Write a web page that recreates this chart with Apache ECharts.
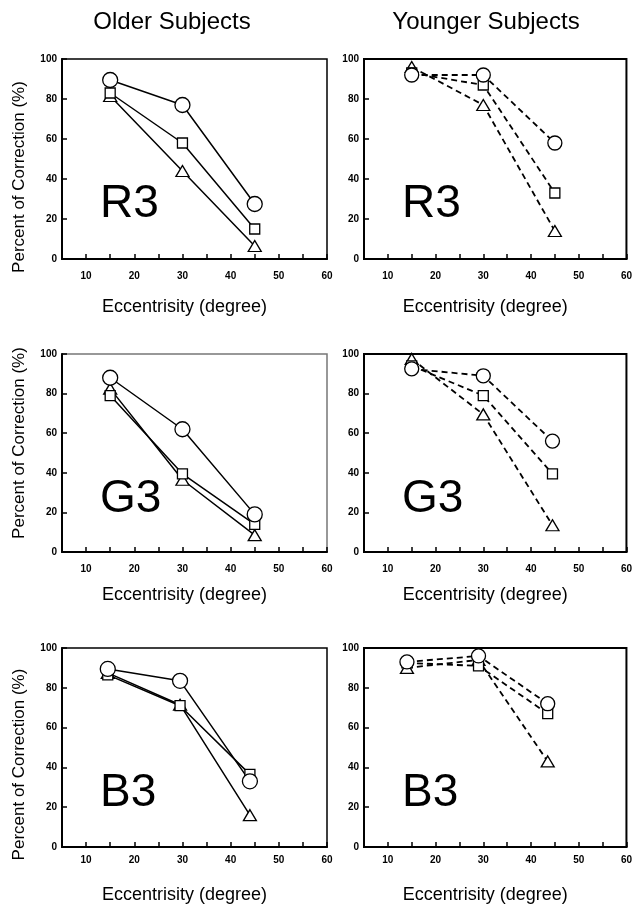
<!DOCTYPE html>
<html><head><meta charset="utf-8">
<script src="https://cdn.jsdelivr.net/npm/echarts@6/dist/echarts.min.js"></script>
<style>html,body{margin:0;padding:0;background:#fff}#c{width:635px;height:909px}</style>
</head><body><div id="c"></div>
<script>
const columnTitles = ['Older Subjects', 'Younger Subjects'];
const panelLabels = ['R3', 'G3', 'B3'];
const xTickLabels = [10, 20, 30, 40, 50, 60];
const yTickLabels = [0, 20, 40, 60, 80, 100];
const xAxisTitle = 'Eccentrisity (degree)';
const yAxisTitle = 'Percent of Correction (%)';

// Older subjects, R3
const oldR3Ecc = [15, 30, 45];
const oldR3Circle = [89.5, 77, 27.5];
const oldR3Square = [83, 58, 15];
const oldR3Triangle = [81.5, 44, 6.5];
// Younger subjects, R3
const youngR3Ecc = [15, 30, 45];
const youngR3Circle = [92, 92, 58];
const youngR3Square = [93, 87, 33];
const youngR3Triangle = [96, 77, 14];
// Older subjects, G3
const oldG3Ecc = [15, 30, 45];
const oldG3Circle = [88, 62, 19];
const oldG3Square = [79, 39.5, 14];
const oldG3Triangle = [82.5, 36.5, 8.5];
// Younger subjects, G3
const youngG3Ecc = [15, 30, 44.5];
const youngG3Circle = [92.5, 89, 56];
const youngG3Square = [94, 79, 39.5];
const youngG3Triangle = [97.5, 69.5, 13.5];
// Older subjects, B3
const oldB3Ecc = [14.5, 29.5, 44];
const oldB3Circle = [89.5, 83.5, 33];
const oldB3Square = [86.5, 71, 36.5];
const oldB3Triangle = [87.5, 71.5, 16];
// Younger subjects, B3
const youngB3Ecc = [14, 29, 43.5];
const youngB3Circle = [93, 96, 72];
const youngB3Square = [92.5, 91, 67];
const youngB3Triangle = [90, 94, 43];

const panels = [
  {row: 0, col: 0, ecc: oldR3Ecc, circle: oldR3Circle, square: oldR3Square, triangle: oldR3Triangle},
  {row: 0, col: 1, ecc: youngR3Ecc, circle: youngR3Circle, square: youngR3Square, triangle: youngR3Triangle},
  {row: 1, col: 0, ecc: oldG3Ecc, circle: oldG3Circle, square: oldG3Square, triangle: oldG3Triangle},
  {row: 1, col: 1, ecc: youngG3Ecc, circle: youngG3Circle, square: youngG3Square, triangle: youngG3Triangle},
  {row: 2, col: 0, ecc: oldB3Ecc, circle: oldB3Circle, square: oldB3Square, triangle: oldB3Triangle},
  {row: 2, col: 1, ecc: youngB3Ecc, circle: youngB3Circle, square: youngB3Square, triangle: youngB3Triangle}
];

// layout
const rowTop = [59, 354, 648];
const rowHeight = [200, 198, 199];
const colLeft = [62, 364];
const colWidth = [265, 264];
const xNameGap = [39, 34, 39];
const xLabelMargin = [12, 12, 8];
const yNamePadding = [[0, 36, 0, 0], [0, 0, 0, 20], [0, 34, 0, 0]];
const FONT = "'Liberation Sans', Arial, Helvetica, sans-serif";

const chart = echarts.init(document.getElementById('c'), null, {renderer: 'canvas'});

const grids = [], xAxes = [], yAxes = [], series = [], graphics = [];

panels.forEach((p, i) => {
  const borderColor = (p.row === 1 && p.col === 0) ? '#777' : '#000';
  grids.push({
    left: colLeft[p.col], top: rowTop[p.row], width: colWidth[p.col], height: rowHeight[p.row],
    show: true, borderColor: borderColor, borderWidth: (p.col === 1 ? 2 : 1.5), backgroundColor: 'transparent'
  });
  xAxes.push({
    gridIndex: i, type: 'value', min: 5, max: 60, interval: 5,
    axisLine: {show: true, onZero: false, lineStyle: {color: '#000', width: 2}},
    axisTick: {show: true, inside: true, length: 5, lineStyle: {color: '#000', width: 1.5}},
    axisLabel: {
      show: true, margin: xLabelMargin[p.row], color: '#000',
      fontFamily: FONT, fontSize: 10, fontWeight: 'bold',
      formatter: v => xTickLabels.indexOf(Math.round(v)) >= 0 ? String(Math.round(v)) : ''
    },
    splitLine: {show: false},
    name: xAxisTitle, nameLocation: 'middle', nameGap: xNameGap[p.row],
    nameTextStyle: {fontFamily: FONT, fontSize: 18, color: '#000', padding: [0, 20, 0, 0]}
  });
  yAxes.push({
    gridIndex: i, type: 'value', min: 0, max: 100, interval: 20,
    axisLine: {show: true, onZero: false, lineStyle: {color: '#000', width: 2}},
    axisTick: {show: true, inside: true, length: 5, lineStyle: {color: '#000', width: 1.5}},
    axisLabel: {
      show: true, margin: 5, color: '#000',
      fontFamily: FONT, fontSize: 10, fontWeight: 'bold',
      formatter: v => yTickLabels.indexOf(Math.round(v)) >= 0 ? String(Math.round(v)) : ''
    },
    splitLine: {show: false},
    name: p.col === 0 ? yAxisTitle : '', nameLocation: 'middle', nameGap: 34,
    nameTextStyle: {fontFamily: FONT, fontSize: 17, color: '#000', padding: yNamePadding[p.row]}
  });
  const dashed = p.col === 1;
  const mk = (vals, symbol, size) => ({
    type: 'line', xAxisIndex: i, yAxisIndex: i,
    data: p.ecc.map((x, k) => [x, vals[k]]),
    symbol: symbol, symbolSize: size, showSymbol: true,
    lineStyle: {color: '#000', width: dashed ? 1.8 : 1.5, type: dashed ? [6, 4] : 'solid'},
    itemStyle: {color: '#fff', borderColor: '#000', borderWidth: 1.3},
    emphasis: {disabled: true}, silent: true, animation: false
  });
  series.push(mk(p.triangle, 'triangle', [13, 11]));
  series.push(mk(p.square, 'rect', [10, 10]));
  series.push(mk(p.circle, 'circle', p.col === 0 ? 15 : 14));

  graphics.push({
    type: 'text', left: colLeft[p.col] + 38, top: rowTop[p.row] + 122,
    style: {text: panelLabels[p.row], font: '46px ' + FONT, fill: '#000'}
  });
});

columnTitles.forEach((t, c) => {
  graphics.push({
    type: 'text', x: colLeft[c] + (c === 0 ? 110 : 122), y: 22,
    style: {text: t, font: '24px ' + FONT, fill: '#000', align: 'center', verticalAlign: 'middle'}
  });
});

chart.setOption({
  animation: false,
  backgroundColor: '#fff',
  grid: grids, xAxis: xAxes, yAxis: yAxes, series: series, graphic: graphics
});
</script></body></html>
